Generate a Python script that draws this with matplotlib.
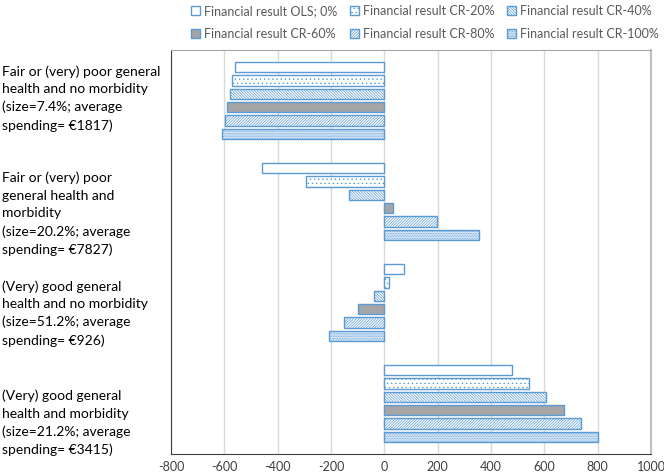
import numpy as np
import matplotlib
matplotlib.use("Agg")
from matplotlib import pyplot as plt

# categories (top to bottom) and series values
categories = [
    "Fair or (very) poor general\nhealth and no morbidity\n(size=7.4%; average\nspending= €1817)",
    "Fair or (very) poor\ngeneral health and\nmorbidity\n(size=20.2%; average\nspending= €7827)",
    "(Very) good general\nhealth and no morbidity\n(size=51.2%; average\nspending= €926)",
    "(Very) good general\nhealth and morbidity\n(size=21.2%; average\nspending= €3415)",
]
seriesNames = [
    "Financial result OLS; 0%",
    "Financial result CR-20%",
    "Financial result CR-40%",
    "Financial result CR-60%",
    "Financial result CR-80%",
    "Financial result CR-100%",
]
ols = [-561, -457, 74, 480]
cr20 = [-570, -293, 17, 544]
cr40 = [-579, -131, -40, 608]
cr60 = [-589, 32, -97, 673]
cr80 = [-597, 197, -153, 738]
cr100 = [-607, 356, -208, 803]
xTicks = [-800, -600, -400, -200, 0, 200, 400, 600, 800, 1000]

seriesValues = [ols, cr20, cr40, cr60, cr80, cr100]
edge = "#5b9bd5"
faces = ["white", "white", "white", "#a5a5a5", "white", "#e3edf8"]
hatches = [None, "....", "\\" * 12, None, "/" * 12, "." * 10]
# the category labels sit a little off the group centres, as in the original
labelShift = [-0.06, 0.085, 0.07, 0.155]

plt.rcParams["font.family"] = ["Lato", "DejaVu Sans"]
plt.rcParams["hatch.linewidth"] = 0.5

fig = plt.figure(figsize=(6.64, 4.73), dpi=100)
ax = fig.add_axes([171 / 664, 19 / 473, 480 / 664, 404 / 473])

yPos = np.arange(len(categories))
slot = 0.132
barH = 0.1
handles = []
for i, vals in enumerate(seriesValues):
    offs = (i - 2.5) * slot
    b = ax.barh(yPos + offs, vals, height=barH, color=faces[i], edgecolor=edge,
                linewidth=1.0, hatch=hatches[i], label=seriesNames[i], zorder=3)
    handles.append(b)

ax.set_ylim(3.5, -0.5)
ax.set_xlim(-800, 1000)
ax.set_xticks(xTicks)
ax.set_xticklabels([str(t) for t in xTicks], fontsize=9, color="#404040")
ax.tick_params(axis="x", length=0, pad=5)
ax.grid(axis="x", color="#d9d9d9", linewidth=1.0, zorder=0)

ax.set_yticks(yPos + np.array(labelShift))
ax.set_yticklabels(categories, fontsize=10, color="black", ha="left", linespacing=1.55)
ax.tick_params(axis="y", length=0, pad=169 * 72 / 100)

ax.spines["left"].set_color("#404040")
ax.spines["bottom"].set_color("#404040")
ax.spines["top"].set_color("#a6a6a6")
ax.spines["right"].set_color("#bfbfbf")
ax.spines["right"].set_linewidth(1.5)

# legend is filled column by column, so reorder to get row layout
order = [0, 3, 1, 4, 2, 5]
fig.legend([handles[k] for k in order], [seriesNames[k] for k in order],
           ncol=3, loc="upper left", bbox_to_anchor=(191 / 664, 1 - 5 / 473),
           frameon=False, fontsize=9, handlelength=0.7, handleheight=0.7,
           handletextpad=0.35, columnspacing=1.0, labelspacing=0.85,
           borderpad=0, borderaxespad=0, labelcolor="#595959")

fig.savefig("out.png", dpi=100)
